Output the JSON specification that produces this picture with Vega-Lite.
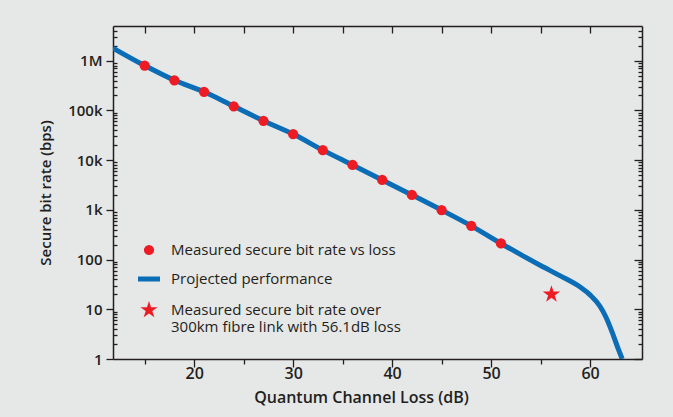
{
  "$schema": "https://vega.github.io/schema/vega-lite/v6.json",
  "width": 529,
  "height": 333,
  "autosize": {"type": "none"},
  "padding": {"left": 113, "top": 26, "right": 31, "bottom": 58},
  "background": "#e6e7e7",
  "config": {
    "view": {"stroke": null},
    "font": "Open Sans",
    "axis": {
      "domainColor": "#231f20",
      "tickColor": "#231f20",
      "labelColor": "#231f20",
      "titleColor": "#231f20",
      "domainWidth": 1.5,
      "tickWidth": 1.3,
      "grid": false
    },
    "legend": {"labelColor": "#231f20"}
  },
  "datasets": {
    "projected": [
      {"loss": 11.8, "rate": 1800000},
      {"loss": 15, "rate": 800000},
      {"loss": 18, "rate": 405000},
      {"loss": 21, "rate": 237000},
      {"loss": 24, "rate": 121000},
      {"loss": 27, "rate": 62000},
      {"loss": 30, "rate": 33500},
      {"loss": 33, "rate": 15900},
      {"loss": 36, "rate": 8000},
      {"loss": 39, "rate": 4000},
      {"loss": 42, "rate": 2000},
      {"loss": 45, "rate": 990},
      {"loss": 48, "rate": 477},
      {"loss": 51, "rate": 211},
      {"loss": 53, "rate": 126},
      {"loss": 55, "rate": 76},
      {"loss": 57, "rate": 47},
      {"loss": 59, "rate": 28},
      {"loss": 60, "rate": 19.5},
      {"loss": 61, "rate": 11.5},
      {"loss": 61.6, "rate": 7},
      {"loss": 62.2, "rate": 3.6},
      {"loss": 62.8, "rate": 1.7},
      {"loss": 63.25, "rate": 1.0}
    ],
    "measured": [
      {"loss": 15, "rate": 800000, "series": "Measured secure bit rate vs loss"},
      {"loss": 18, "rate": 405000, "series": "Measured secure bit rate vs loss"},
      {"loss": 21, "rate": 237000, "series": "Measured secure bit rate vs loss"},
      {"loss": 24, "rate": 121000, "series": "Measured secure bit rate vs loss"},
      {"loss": 27, "rate": 62000, "series": "Measured secure bit rate vs loss"},
      {"loss": 30, "rate": 33500, "series": "Measured secure bit rate vs loss"},
      {"loss": 33, "rate": 15900, "series": "Measured secure bit rate vs loss"},
      {"loss": 36, "rate": 8000, "series": "Measured secure bit rate vs loss"},
      {"loss": 39, "rate": 4000, "series": "Measured secure bit rate vs loss"},
      {"loss": 42, "rate": 2000, "series": "Measured secure bit rate vs loss"},
      {"loss": 45, "rate": 990, "series": "Measured secure bit rate vs loss"},
      {"loss": 48, "rate": 477, "series": "Measured secure bit rate vs loss"},
      {"loss": 51, "rate": 211, "series": "Measured secure bit rate vs loss"}
    ],
    "star": [
      {"loss": 56.1, "rate": 20, "series": "Measured secure bit rate over 300km fibre link with 56.1dB loss"}
    ]
  },
  "layer": [
    {
      "data": {"name": "projected"},
      "mark": {"type": "line", "color": "#0b6db6", "strokeWidth": 5, "interpolate": "monotone", "clip": true},
      "encoding": {
        "x": {
          "field": "loss", "type": "quantitative",
          "scale": {"domain": [11.8, 65.25], "nice": false, "zero": false},
          "axis": {"orient": "bottom", "values": [20, 30, 40, 50, 60], "tickSize": 8, "labelFontSize": 16, "labelFontWeight": 600, "labelPadding": -2, "title": "Quantum Channel Loss (dB)", "titleFontSize": 16, "titleFontWeight": 600, "titlePadding": 8, "titleX": 248}
        },
        "y": {
          "field": "rate", "type": "quantitative",
          "scale": {"type": "log", "domain": [1, 5000000], "nice": false},
          "axis": {"orient": "left", "values": [1, 10, 100, 1000, 10000, 100000, 1000000], "format": "~s", "tickSize": 7, "labelFontSize": 15, "labelFontWeight": 600, "labelPadding": 4, "title": "Secure bit rate (bps)", "titleFontSize": 15, "titleFontWeight": 600, "titlePadding": 14}
        }
      }
    },
    {
      "data": {"name": "measured"},
      "mark": {"type": "point", "filled": true, "size": 105, "opacity": 1},
      "encoding": {
        "x": {
          "field": "loss", "type": "quantitative",
          "scale": {"domain": [11.8, 65.25], "nice": false, "zero": false},
          "axis": {"orient": "bottom", "values": [15, 25, 35, 45, 55], "tickSize": 5, "labels": false, "domain": false, "title": null}
        },
        "y": {
          "field": "rate", "type": "quantitative",
          "scale": {"type": "log", "domain": [1, 5000000], "nice": false},
          "axis": {"orient": "left", "values": [2,3,4,5,6,7,8,9,20,30,40,50,60,70,80,90,200,300,400,500,600,700,800,900,2000,3000,4000,5000,6000,7000,8000,9000,20000,30000,40000,50000,60000,70000,80000,90000,200000,300000,400000,500000,600000,700000,800000,900000,2000000,3000000,4000000], "tickSize": -4, "labels": false, "domain": false, "title": null}
        },
        "color": {
          "field": "series", "type": "nominal",
          "scale": {"domain": ["Measured secure bit rate vs loss", "Projected performance", "Measured secure bit rate over 300km fibre link with 56.1dB loss"], "range": ["#ed1c24", "#0b6db6", "#ed1c24"]},
          "legend": {
            "orient": "bottom-left", "offset": 24, "title": null, "labelFontSize": 15, "labelLimit": 500, "labelOffset": 10, "rowPadding": 1, "padding": 0,
            "symbolSize": {"expr": "datum.value === 'Projected performance' ? 484 : datum.value === 'Measured secure bit rate vs loss' ? 105 : 330"},
            "symbolStrokeColor": {"expr": "datum.value === 'Projected performance' ? '#0b6db6' : 'transparent'"},
            "symbolStrokeWidth": 5,
            "labelExpr": "datum.value === 'Measured secure bit rate over 300km fibre link with 56.1dB loss' ? ['Measured secure bit rate over', '300km fibre link with 56.1dB loss'] : datum.label"
          }
        },
        "shape": {
          "field": "series", "type": "nominal",
          "scale": {"domain": ["Measured secure bit rate vs loss", "Projected performance", "Measured secure bit rate over 300km fibre link with 56.1dB loss"], "range": ["circle", "stroke", "M0,-1L0.225,-0.309L0.951,-0.309L0.363,0.118L0.588,0.809L0,0.382L-0.588,0.809L-0.363,0.118L-0.951,-0.309L-0.225,-0.309Z"]},
          "legend": {
            "orient": "bottom-left", "offset": 24, "title": null, "labelFontSize": 15, "labelLimit": 500, "labelOffset": 10, "rowPadding": 1, "padding": 0,
            "symbolSize": {"expr": "datum.value === 'Projected performance' ? 484 : datum.value === 'Measured secure bit rate vs loss' ? 105 : 330"},
            "symbolStrokeColor": {"expr": "datum.value === 'Projected performance' ? '#0b6db6' : 'transparent'"},
            "symbolStrokeWidth": 5,
            "labelExpr": "datum.value === 'Measured secure bit rate over 300km fibre link with 56.1dB loss' ? ['Measured secure bit rate over', '300km fibre link with 56.1dB loss'] : datum.label"
          }
        }
      }
    },
    {
      "data": {"name": "star"},
      "mark": {"type": "point", "filled": true, "size": 330, "opacity": 1},
      "encoding": {
        "x": {
          "field": "loss", "type": "quantitative",
          "scale": {"domain": [11.8, 65.25], "nice": false, "zero": false},
          "axis": {"orient": "top", "values": [15, 20, 25, 30, 35, 40, 45, 50, 55, 60], "tickSize": -7, "labels": false, "domain": true, "title": null}
        },
        "y": {
          "field": "rate", "type": "quantitative",
          "scale": {"type": "log", "domain": [1, 5000000], "nice": false},
          "axis": {"orient": "right", "values": [1, 10, 100, 1000, 10000, 100000, 1000000], "tickSize": -8, "labels": false, "domain": true, "title": null}
        },
        "color": {"field": "series", "type": "nominal"},
        "shape": {"field": "series", "type": "nominal"}
      }
    },
    {
      "data": {"name": "measured"},
      "mark": {"type": "point", "opacity": 0},
      "encoding": {
        "x": {
          "field": "loss", "type": "quantitative",
          "scale": {"domain": [11.8, 65.25], "nice": false, "zero": false},
          "axis": null
        },
        "y": {
          "field": "rate", "type": "quantitative",
          "scale": {"type": "log", "domain": [1, 5000000], "nice": false},
          "axis": {"orient": "right", "values": [2,3,4,5,6,7,8,9,20,30,40,50,60,70,80,90,200,300,400,500,600,700,800,900,2000,3000,4000,5000,6000,7000,8000,9000,20000,30000,40000,50000,60000,70000,80000,90000,200000,300000,400000,500000,600000,700000,800000,900000,2000000,3000000,4000000], "tickSize": -4, "labels": false, "domain": false, "title": null}
        }
      }
    }
  ],
  "resolve": {"axis": {"x": "independent", "y": "independent"}}
}
